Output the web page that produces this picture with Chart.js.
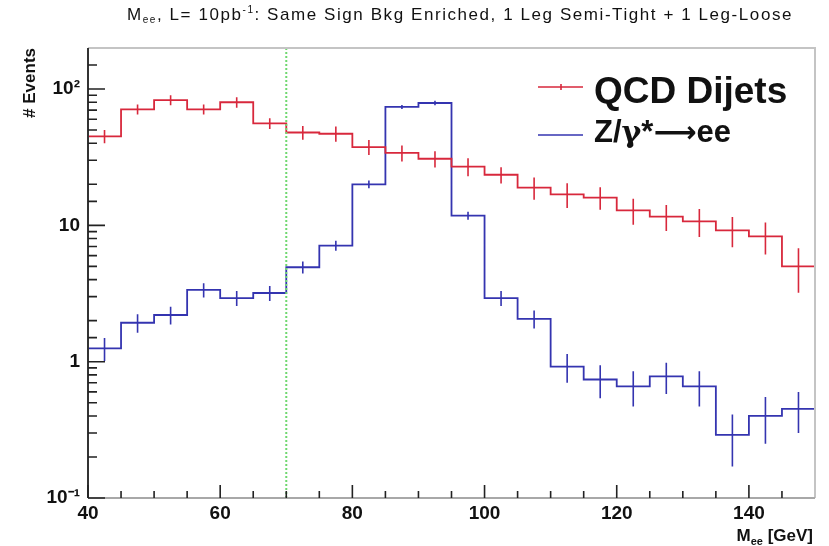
<!DOCTYPE html>
<html>
<head>
<meta charset="utf-8">
<script src="https://cdn.jsdelivr.net/npm/chart.js@4.4.0/dist/chart.umd.min.js"></script>
<style>
  body { margin: 0; background: #fff; }
</style>
</head>
<body>
<canvas id="canvas" width="829" height="546"></canvas>
<script>
// histogram bins, 5 GeV wide, low edges
const binEdges = [40, 45, 50, 55, 60, 65, 70, 75, 80, 85, 90, 95, 100, 105, 110, 115, 120, 125, 130, 135, 140, 145]
const binWidth = 5
const histMax = 150
const cutValue = 70

const qcdValues = [45, 71, 83, 71, 80, 56, 48, 47, 37.5, 34, 30.8, 27, 23.5, 18.9, 16.9, 16.0, 12.9, 11.6, 10.7, 9.2, 8.3, 5.0]
const qcdErrors = [5, 6, 7, 6, 7, 5, 5.5, 6, 4.7, 4.6, 4.2, 4.1, 3.2, 3.5, 3.5, 3.0, 2.8, 2.5, 2.5, 2.3, 2.2, 1.8]
const zeeValues = [1.25, 1.93, 2.2, 3.36, 2.93, 3.19, 4.93, 7.1, 20, 74, 79, 11.8, 2.93, 2.06, 0.92, 0.74, 0.66, 0.78, 0.66, 0.29, 0.40, 0.45]
const zeeErrors = [0.24, 0.3, 0.33, 0.4, 0.37, 0.4, 0.5, 0.6, 1.3, 2.5, 3, 0.8, 0.37, 0.31, 0.22, 0.2, 0.19, 0.2, 0.19, 0.12, 0.15, 0.15]

const yTickLabels = { '0.1': '10\u207B\u00B9', '1': '1', '10': '10', '100': '10\u00B2' }

const fam = "'Liberation Sans', Arial, sans-serif"
const red = '#d8283c'
const blue = '#3434b0'

function histPoints(values) {
    let pts = binEdges.map((x, i) => ({ x: x, y: values[i] }))
    pts.push({ x: histMax, y: values[values.length - 1] })
    return pts
}

function isDecade(v) {
    let l = Math.log10(v)
    return Math.abs(l - Math.round(l)) < 1e-6
}

// draw text made of pieces (sub/superscripts), optionally stretched to a width
function drawPieces(ctx, pieces, x, y, align, weight, fitWidth) {
    let total = 0
    let chars = 0
    ctx.letterSpacing = '0px'
    pieces.forEach(p => {
        ctx.font = weight + ' ' + p.s + 'px ' + (p.f || fam)
        p.w = ctx.measureText(p.t).width
        total += p.w
        chars += p.t.length
    })
    let sp = 0
    if (fitWidth && fitWidth > total) {
        sp = (fitWidth - total) / chars
        total = fitWidth
    }
    let cx = align === 'right' ? x - total : (align === 'center' ? x - total / 2 : x)
    ctx.textAlign = 'left'
    ctx.textBaseline = 'alphabetic'
    ctx.letterSpacing = sp + 'px'
    pieces.forEach(p => {
        ctx.font = weight + ' ' + p.s + 'px ' + (p.f || fam)
        ctx.fillText(p.t, cx, y + (p.dy || 0))
        cx += p.w + sp * p.t.length
    })
    ctx.letterSpacing = '0px'
}

const rootStyle = {
    id: 'rootStyle',
    afterDatasetsDraw(chart) {
        const ctx = chart.ctx
        const xs = chart.scales.x
        const ys = chart.scales.y
        const a = chart.chartArea
        ctx.save()

        // error bars
        const errs = [qcdErrors, zeeErrors]
        chart.data.datasets.forEach((ds, d) => {
            ctx.strokeStyle = ds.borderColor
            ctx.lineWidth = 1.6
            ctx.beginPath()
            binEdges.forEach((e, i) => {
                let v = ds.values[i]
                let er = errs[d][i]
                let px = xs.getPixelForValue(e + binWidth / 2)
                ctx.moveTo(px, ys.getPixelForValue(Math.max(v - er, ys.min)))
                ctx.lineTo(px, ys.getPixelForValue(v + er))
            })
            ctx.stroke()
        })

        // cut line
        ctx.strokeStyle = '#6fd86f'
        ctx.lineWidth = 2
        ctx.setLineDash([2, 2])
        ctx.beginPath()
        let cx = xs.getPixelForValue(cutValue)
        ctx.moveTo(cx, a.bottom)
        ctx.lineTo(cx, a.top)
        ctx.stroke()
        ctx.setLineDash([])

        // frame
        ctx.lineWidth = 2
        ctx.strokeStyle = '#c4c4c4'
        ctx.beginPath()
        ctx.moveTo(a.left, a.top)
        ctx.lineTo(a.right, a.top)
        ctx.lineTo(a.right, a.bottom)
        ctx.stroke()
        ctx.strokeStyle = '#a8a8a8'
        ctx.beginPath()
        ctx.moveTo(a.left, a.bottom)
        ctx.lineTo(a.right, a.bottom)
        ctx.stroke()
        ctx.strokeStyle = '#333'
        ctx.beginPath()
        ctx.moveTo(a.left, a.top)
        ctx.lineTo(a.left, a.bottom)
        ctx.stroke()

        // ticks inside the frame
        ctx.lineWidth = 1.6
        ctx.strokeStyle = '#222'
        ctx.beginPath()
        for (let v = xs.min; v < xs.max; v += binWidth) {
            let px = xs.getPixelForValue(v)
            let len = (v % 20 === 0) ? 13 : 7
            ctx.moveTo(px, a.bottom)
            ctx.lineTo(px, a.bottom - len)
        }
        ys.ticks.forEach(t => {
            if (t.value >= ys.max) return
            let py = ys.getPixelForValue(t.value)
            let len = isDecade(t.value) ? 17 : 9
            ctx.moveTo(a.left, py)
            ctx.lineTo(a.left + len, py)
        })
        ctx.stroke()

        // legend
        ctx.lineWidth = 1.6
        ctx.strokeStyle = red
        ctx.beginPath()
        ctx.moveTo(538, 87)
        ctx.lineTo(583, 87)
        ctx.moveTo(561, 84)
        ctx.lineTo(561, 90)
        ctx.stroke()
        ctx.strokeStyle = blue
        ctx.beginPath()
        ctx.moveTo(538, 135)
        ctx.lineTo(583, 135)
        ctx.stroke()
        ctx.fillStyle = '#111'
        ctx.textAlign = 'left'
        ctx.textBaseline = 'alphabetic'
        ctx.font = 'bold 37px ' + fam
        ctx.fillText(chart.data.datasets[0].label, 594, 103)
        drawPieces(ctx, [
            { t: 'Z/', s: 31 },
            { t: '\u03B3', s: 30, f: "'DejaVu Serif', serif" },
            { t: '*', s: 31 },
            { t: '\u27F6', s: 30, f: "'DejaVu Sans', sans-serif" },
            { t: 'ee', s: 31 }
        ], 594, 142, 'left', 'bold')

        // title
        ctx.fillStyle = '#111'
        drawPieces(ctx, [
            { t: 'M', s: 17 },
            { t: 'ee', s: 10, dy: 3 },
            { t: ', L= 10pb', s: 17 },
            { t: '-1', s: 10, dy: -7 },
            { t: ': Same Sign Bkg Enriched, 1 Leg Semi-Tight + 1 Leg-Loose', s: 17 }
        ], 460, 20, 'center', 'normal', 666)

        // x axis title
        drawPieces(ctx, [
            { t: 'M', s: 17 },
            { t: 'ee', s: 11, dy: 4 },
            { t: ' [GeV]', s: 17 }
        ], a.right - 2, 541, 'right', 'bold')

        // y axis title
        ctx.translate(35, a.top)
        ctx.rotate(-Math.PI / 2)
        ctx.font = 'bold 17px ' + fam
        ctx.textAlign = 'right'
        ctx.fillText('# Events', 0, 0)

        ctx.restore()
    }
}

const ctx = document.getElementById('canvas').getContext('2d')
const config = {
    type: 'line',
    data: {
        datasets: [{
            label: 'QCD Dijets',
            data: histPoints(qcdValues),
            values: qcdValues,
            borderColor: red,
            borderWidth: 1.8,
            pointRadius: 0,
            stepped: 'before',
            fill: false
        }, {
            label: 'Z/\u03B3*\u2192ee',
            data: histPoints(zeeValues),
            values: zeeValues,
            borderColor: blue,
            borderWidth: 1.8,
            pointRadius: 0,
            stepped: 'before',
            fill: false
        }]
    },
    options: {
        responsive: false,
        animation: false,
        events: [],
        layout: { padding: { left: 0, right: 14, top: 48, bottom: 0 } },
        plugins: {
            legend: { display: false },
            title: { display: false },
            tooltip: { enabled: false }
        },
        scales: {
            x: {
                type: 'linear',
                min: 40,
                max: histMax,
                grid: { display: false, drawTicks: false },
                border: { display: false },
                ticks: {
                    stepSize: 20,
                    includeBounds: false,
                    autoSkip: false,
                    maxRotation: 0,
                    padding: 4,
                    color: '#111',
                    font: { family: fam, size: 19, weight: 'bold' }
                },
                afterFit: s => { s.height = 48 }
            },
            y: {
                type: 'logarithmic',
                min: 0.1,
                max: 200,
                grid: { display: false, drawTicks: false },
                border: { display: false },
                ticks: {
                    autoSkip: false,
                    padding: 8,
                    color: '#111',
                    font: { family: fam, size: 19, weight: 'bold' },
                    callback: function(v) {
                        return yTickLabels[String(+v.toPrecision(3))] || ''
                    }
                },
                afterFit: s => { s.width = 88 }
            }
        }
    },
    plugins: [rootStyle]
}
let myChart = new Chart(ctx, config)
</script>
</body>
</html>
